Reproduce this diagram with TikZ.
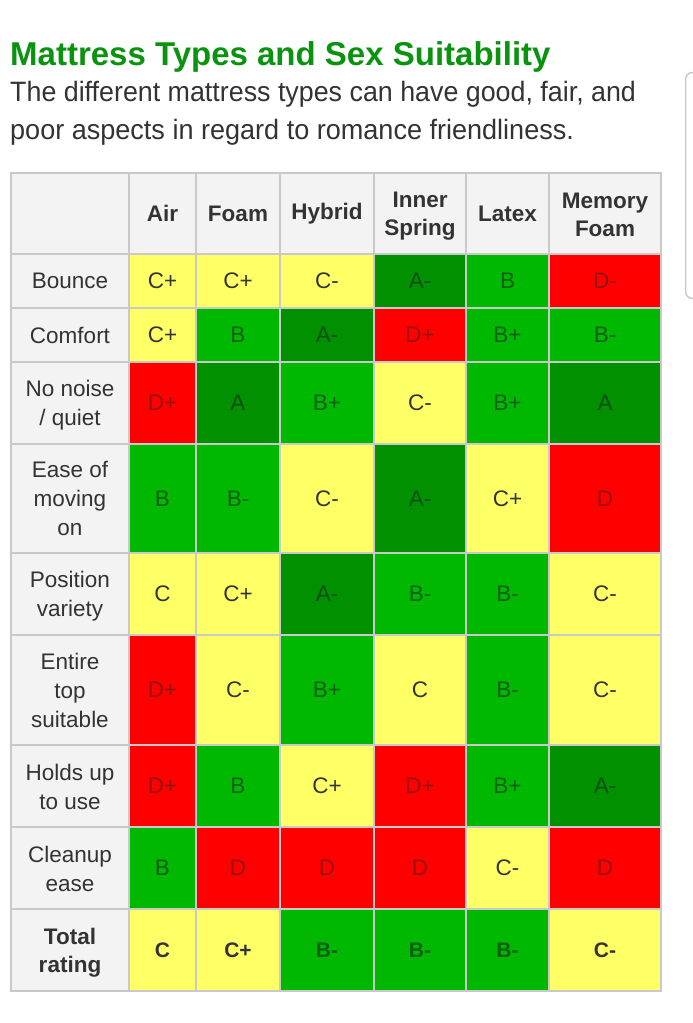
\documentclass[tikz,border=0pt]{standalone}
\usepackage{fontspec}
\usepackage{graphicx}
\setmainfont{Liberation Sans}
\definecolor{gridgray}{HTML}{C9C9C9}
\definecolor{headbg}{HTML}{F3F3F3}
\definecolor{inkgray}{HTML}{333333}
\definecolor{titlegreen}{HTML}{0A930F}
\definecolor{yel}{HTML}{FFFF66}
\definecolor{grn}{HTML}{00B800}
\definecolor{dgrn}{HTML}{009000}
\definecolor{rd}{HTML}{FF0000}
\definecolor{ongrn}{HTML}{0A5F10}
\definecolor{ondgrn}{HTML}{0A4F10}
\definecolor{onrd}{HTML}{9A1010}
\tikzset{
  tabcell/.style={draw=gridgray,line width=1.8pt,inner sep=0pt,align=center,text=inkgray,
    font=\fontsize{22.5}{29}\selectfont},
  hd/.style={tabcell,fill=headbg},
  hdb/.style={hd,font=\fontsize{22.5}{28}\selectfont\bfseries},
  cy/.style={tabcell,fill=yel},
  cg/.style={tabcell,fill=grn,text=ongrn},
  ca/.style={tabcell,fill=dgrn,text=ondgrn},
  cr/.style={tabcell,fill=rd,text=onrd},
  totalcell/.style={font=\fontsize{21}{28}\selectfont\bfseries},
  heading/.style={anchor=base west,inner sep=0pt,text=titlegreen,font=\fontsize{33}{36}\selectfont\bfseries},
  bodyline/.style={anchor=base west,inner sep=0pt,text=inkgray,font=\fontsize{28}{38}\selectfont},
}
\newcommand{\upgap}{\rule{0pt}{21pt}}
\newcommand{\upgapsmall}{\rule{0pt}{18.5pt}}
\def\xs{{11,129,196,280,374,466,549,661}}
\def\ys{{173,254,308,362,444,553,635,745,827,909,991}}
\newcommand{\cellnode}[5]{%
  \pgfmathsetmacro{\xa}{\xs[#1]}\pgfmathsetmacro{\xb}{\xs[#1+1]}%
  \pgfmathsetmacro{\ya}{\ys[#2]}\pgfmathsetmacro{\yb}{\ys[#2+1]}%
  \node[#3,minimum width=\xb pt-\xa pt,minimum height=\yb pt-\ya pt] (#4) at ({(\xa+\xb)/2},{(\ya+\yb)/2}) {#5};}
\begin{document}
\begin{tikzpicture}[x=1pt,y=-1pt]
\useasboundingbox (0,0) rectangle (693,1023);
\fill[white] (0,0) rectangle (693,1023);
\node[heading] (title) at (10,65) {Mattress Types and Sex Suitability};
\node[bodyline] (desc1) at (10,101) {\scalebox{0.958}[1]{The different mattress types can have good, fair, and}};
\node[bodyline] (desc2) at (10,139) {\scalebox{0.966}[1]{poor aspects in regard to romance friendliness.}};
\draw[gridgray,line width=1.5pt,rounded corners=7pt] (700,72.5) -- (685.5,72.5) -- (685.5,298.5) -- (700,298.5);
% header
\cellnode{0}{0}{hdb}{h0}{}
\cellnode{1}{0}{hdb}{h1}{Air}
\cellnode{2}{0}{hdb}{h2}{Foam}
\cellnode{3}{0}{hdb}{h3}{Hybrid}
\cellnode{4}{0}{hdb}{h4}{\upgap Inner\\Spring}
\cellnode{5}{0}{hdb}{h5}{Latex}
\cellnode{6}{0}{hdb}{h6}{\upgapsmall Memory\\Foam}
% row labels
\cellnode{0}{1}{hd}{l1}{Bounce}
\cellnode{0}{2}{hd}{l2}{Comfort}
\cellnode{0}{3}{hd}{l3}{\upgap No noise\\/ quiet}
\cellnode{0}{4}{hd}{l4}{Ease of\\moving\\on}
\cellnode{0}{5}{hd}{l5}{\upgap Position\\variety}
\cellnode{0}{6}{hd}{l6}{Entire\\top\\suitable}
\cellnode{0}{7}{hd}{l7}{\upgapsmall Holds up\\to use}
\cellnode{0}{8}{hd}{l8}{\upgapsmall Cleanup\\ease}
\cellnode{0}{9}{hdb}{l9}{\upgap Total\\rating}
% grades
\foreach \rr/\vals in {
  1/{cy/C+,cy/C+,cy/C-,ca/A-,cg/B,cr/D-},
  2/{cy/C+,cg/B,ca/A-,cr/D+,cg/B+,cg/B-},
  3/{cr/D+,ca/A,cg/B+,cy/C-,cg/B+,ca/A},
  4/{cg/B,cg/B-,cy/C-,ca/A-,cy/C+,cr/D},
  5/{cy/C,cy/C+,ca/A-,cg/B-,cg/B-,cy/C-},
  6/{cr/D+,cy/C-,cg/B+,cy/C,cg/B-,cy/C-},
  7/{cr/D+,cg/B,cy/C+,cr/D+,cg/B+,ca/A-},
  8/{cg/B,cr/D,cr/D,cr/D,cy/C-,cr/D}}{
  \foreach \st/\gr [count=\ci] in \vals {
    \cellnode{\ci}{\rr}{\st}{c\ci r\rr}{\gr}
  }
}
\foreach \st/\gr [count=\ci] in {cy/C,cy/C+,cg/B-,cg/B-,cg/B-,cy/C-}{
  \cellnode{\ci}{9}{\st,totalcell}{c\ci r9}{\gr}
}
\end{tikzpicture}
\end{document}
